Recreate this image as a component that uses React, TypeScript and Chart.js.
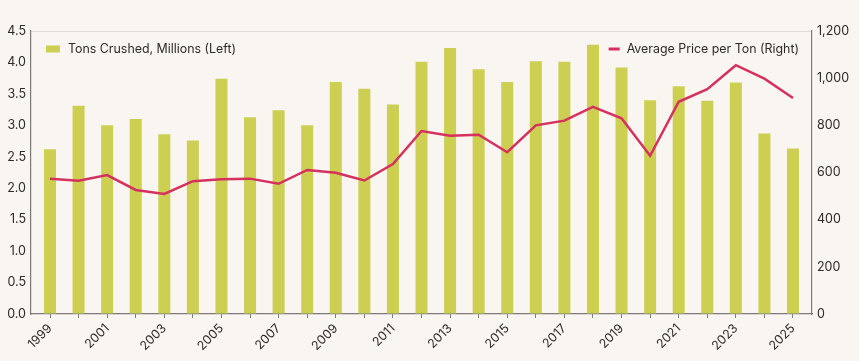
import React, { useEffect, useRef } from "react";
import { Chart, registerables } from "chart.js";

Chart.register(...registerables);

const years = [1999, 2000, 2001, 2002, 2003, 2004, 2005, 2006, 2007, 2008, 2009, 2010, 2011, 2012, 2013, 2014, 2015, 2016, 2017, 2018, 2019, 2020, 2021, 2022, 2023, 2024, 2025];
const tonsCrushed = [2.62, 3.31, 3.0, 3.1, 2.86, 2.76, 3.74, 3.13, 3.24, 3.0, 3.69, 3.58, 3.33, 4.01, 4.23, 3.89, 3.69, 4.02, 4.01, 4.28, 3.92, 3.4, 3.62, 3.39, 3.68, 2.87, 2.63];
const avgPrice = [574, 565, 589, 526, 509, 563, 571, 574, 552, 611, 599, 566, 636, 776, 756, 760, 686, 800, 820, 878, 830, 671, 900, 953, 1055, 998, 916];

const barLabel = "Tons Crushed, Millions (Left)";
const lineLabel = "Average Price per Ton (Right)";

const BG = "#F9F5F1";
const BAR_COLOR = "#CCCF52";
const LINE_COLOR = "#D5305E";
const TEXT = "#2B2B2B";
const AXIS = "#7A7A7A";
const FONT = "Inter, 'Noto Sans', sans-serif";

const inlineLegend = {
  id: "inlineLegend",
  afterDatasetsDraw(chart: any) {
    const { ctx, chartArea } = chart;
    ctx.save();
    ctx.font = `12.4px ${FONT}`;
    ctx.textBaseline = "middle";
    ctx.textAlign = "left";
    const y = chartArea.top + 18;
    ctx.fillStyle = BAR_COLOR;
    ctx.fillRect(chartArea.left + 15, y - 3.5, 14, 7);
    ctx.fillStyle = TEXT;
    ctx.fillText(barLabel, chartArea.left + 37, y);
    const w = ctx.measureText(lineLabel).width;
    const tx = chartArea.right - 13 - w;
    ctx.fillText(lineLabel, tx, y);
    ctx.strokeStyle = LINE_COLOR;
    ctx.lineWidth = 3;
    ctx.beginPath();
    ctx.moveTo(tx - 18, y);
    ctx.lineTo(tx - 7, y);
    ctx.stroke();
    ctx.restore();
  },
};

export default function App() {
  const ref = useRef<HTMLCanvasElement | null>(null);
  useEffect(() => {
    if (!ref.current) return;
    Chart.defaults.font.family = FONT;
    const chart = new Chart(ref.current, {
      type: "bar",
      data: {
        datasets: [
          {
            type: "line",
            label: lineLabel,
            data: years.map((yr, i) => ({ x: yr, y: avgPrice[i] })),
            borderColor: LINE_COLOR,
            backgroundColor: LINE_COLOR,
            borderWidth: 2.5,
            pointRadius: 0,
            tension: 0,
            yAxisID: "y1",
            order: 0,
          } as any,
          {
            type: "bar",
            label: barLabel,
            data: years.map((yr, i) => ({ x: yr, y: tonsCrushed[i] })),
            backgroundColor: BAR_COLOR,
            barPercentage: 1,
            categoryPercentage: 0.42,
            yAxisID: "y",
            order: 1,
          } as any,
        ],
      },
      options: {
        animation: false,
        responsive: false,
        maintainAspectRatio: false,
        layout: { padding: { top: 31, left: 0, right: 0, bottom: 0 } },
        plugins: { legend: { display: false }, tooltip: { enabled: false } },
        scales: {
          x: {
            type: "linear",
            offset: false,
            min: 1998.335,
            max: 2025.665,
            afterBuildTicks: (scale: any) => {
              scale.ticks = years.map((v) => ({ value: v }));
            },
            afterFit: (scale: any) => {
              scale.height = 47;
            },
            grid: { display: true, offset: false, drawOnChartArea: false, drawTicks: true, tickLength: 4, color: AXIS },
            border: { display: true, color: AXIS, width: 1.2 },
            ticks: {
              autoSkip: false,
              minRotation: 45,
              maxRotation: 45,
              padding: 3,
              color: TEXT,
              font: { size: 12.5, family: FONT },
              callback: (v: any) => ((Number(v) - 1999) % 2 === 0 ? String(v) : ""),
            },
          },
          y: {
            position: "left",
            min: 0,
            max: 4.5,
            afterFit: (scale: any) => {
              scale.width = 31;
            },
            grid: {
              display: true,
              drawOnChartArea: true,
              drawTicks: false,
              color: (c: any) => (c.tick && c.tick.value === 4.5 ? "#E2DDD8" : "rgba(0,0,0,0)"),
            },
            border: { display: true, color: AXIS, width: 1.2 },
            ticks: {
              stepSize: 0.5,
              padding: 5,
              color: TEXT,
              font: { size: 12.5, family: FONT },
              callback: (v: any) => Number(v).toFixed(1),
            },
          },
          y1: {
            position: "right",
            min: 0,
            max: 1200,
            afterFit: (scale: any) => {
              scale.width = 47;
            },
            grid: { display: false, drawTicks: false },
            border: { display: true, color: AXIS, width: 1.2 },
            ticks: {
              stepSize: 200,
              padding: 5,
              color: TEXT,
              font: { size: 12.5, family: FONT },
              callback: (v: any) => Number(v).toLocaleString("en-US"),
            },
          },
        },
      },
      plugins: [inlineLegend],
    });
    return () => chart.destroy();
  }, []);

  return (
    <div style={{ position: "fixed", left: 0, top: 0, width: 859, height: 361, background: BG }}>
      <canvas ref={ref} width={859} height={361} style={{ display: "block" }} />
    </div>
  );
}
